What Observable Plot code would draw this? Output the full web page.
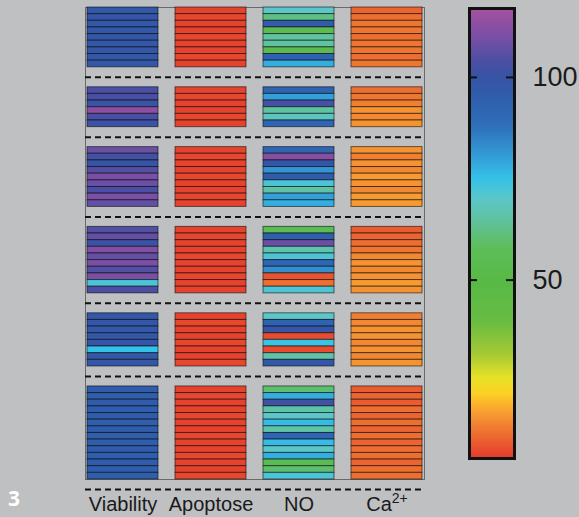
<!DOCTYPE html>
<html><head><meta charset="utf-8">
<script src="https://cdn.jsdelivr.net/npm/d3@7"></script>
<script src="https://cdn.jsdelivr.net/npm/@observablehq/plot@0.6"></script>
<style>
html,body{margin:0;padding:0;background:#bec0c2;}
#wrap{position:relative;width:579px;height:517px;background:#bec0c2;overflow:hidden;font-family:"Liberation Sans",Arial,sans-serif;}
#wrap svg{position:absolute;left:0;top:0;}
#panel{position:absolute;left:8px;top:484px;color:#fff;font:bold 21px "Open Sans",sans-serif;z-index:5;}
</style></head><body><div id="wrap"><div id="panel">3</div></div>
<script>
// ---- data ----
const columns = ["Viability", "Apoptose", "NO", "Ca2+"];
const groupSizes = [9, 6, 9, 10, 8, 14];
const gapRows = 3;

const viability = [
  [98, 99, 98, 98, 99, 98, 99, 98, 98],
  [104, 104, 100, 113, 104, 101],
  [108, 102, 100, 105, 110, 108, 104, 110, 107],
  [105, 107, 101, 111, 107, 110, 105, 110, 72, 104],
  [98, 99, 98, 98, 99, 75, 98, 98],
  [96, 95, 96, 95, 96, 95, 96, 95, 95, 96, 95, 96, 95, 95]
];
const apoptose = [
  [7, 7.5, 7, 7, 7.5, 7, 7, 7.5, 7],
  [7, 7.5, 7, 7, 7.5, 7],
  [7, 7.5, 7, 7, 7.5, 7, 7, 7.5, 7],
  [7, 7.5, 7, 7, 7.5, 7, 7, 7.5, 7, 7],
  [7, 7.5, 7, 7, 7.5, 7, 7, 7.5],
  [7, 7.5, 7, 7, 7.5, 7, 7, 7.5, 7, 7, 7.5, 7, 7, 7.5]
];
const no = [
  [70, 62, 96, 54, 65, 65, 54, 93, 78],
  [93, 80, 103, 65, 69, 92],
  [92, 112, 99, 82, 96, 72, 66, 80, 78],
  [55, 94, 108, 67, 72, 92, 83, 9, 12, 72],
  [70, 93, 99, 8, 74, 8, 66, 98],
  [60, 78, 102, 66, 70, 76, 66, 92, 76, 70, 78, 55, 60, 72]
];
const ca = [
  [11, 12, 13, 13, 12, 13, 13, 12, 13],
  [12, 13, 14, 16, 15, 16],
  [16, 14, 16, 15, 17, 16, 15, 17, 17],
  [10, 11, 12, 13, 15, 16, 15, 16, 17, 16],
  [14, 15, 16, 16, 15, 16, 15, 16],
  [10, 11, 10, 12, 11, 12, 11, 12, 11, 12, 12, 11, 12, 12]
];

const colorStops = [6, 10, 14, 18, 22, 26, 32, 40, 50, 58, 64, 70, 75, 80, 88, 95, 100, 104, 110, 117];
const colorRange = ["#e53a2e", "#ea5c30", "#f07f31", "#f9a431", "#fcd125", "#e6e226", "#a3c935", "#68bc42", "#58b947", "#5dbd5a", "#60c198", "#5cc6c8", "#35c2e8", "#33a0d9", "#2f6fbb", "#2f5eac", "#3754a5", "#4b4fa3", "#7a4fa5", "#a6509f"];
const colorDomain = [6, 117];
const colorTicks = [50, 100];

// ---- build table ----
const series = [viability, apoptose, no, ca];
const cells = [];
const dashes = [];
let start = 0;
groupSizes.forEach((n, g) => {
  for (let i = 0; i < n; i++) {
    columns.forEach((c, k) => {
      cells.push({column: c, y1: start + i, y2: start + i + 1, value: series[k][g][i]});
    });
  }
  dashes.push(start + n + gapRows / 2);
  start += n + gapRows;
});
const totalRows = start - gapRows;

const colorScale = {type: "linear", domain: colorStops, range: colorRange, interpolate: "rgb"};

const heat = Plot.plot({
  width: 579, height: 517,
  marginLeft: 85, marginRight: 155, marginTop: 7, marginBottom: 38,
  style: {background: "transparent", fontFamily: "Liberation Sans, Arial, sans-serif", fontSize: "20px", color: "#1a1a1a", overflow: "visible"},
  x: {domain: columns, paddingInner: 0.19, paddingOuter: 0, axis: null},
  y: {domain: [0, totalRows], reverse: true, axis: null},
  color: colorScale,
  marks: [
    Plot.frame({stroke: "#6a6a6a", strokeWidth: 1}),
    Plot.barY(cells, {x: "column", y1: "y1", y2: "y2", fill: "value", stroke: "#000", strokeOpacity: 0.55, strokeWidth: 1}),
    Plot.ruleY(dashes, {stroke: "#111", strokeWidth: 2, strokeDasharray: "6,4"}),
    Plot.axisX({anchor: "bottom", tickSize: 0, tickPadding: 17, fontSize: 20, label: null})
  ]
});

const bar = Plot.plot({
  width: 579, height: 517,
  marginLeft: 469, marginRight: 65, marginTop: 8, marginBottom: 59,
  style: {background: "transparent", fontFamily: "Liberation Sans, Arial, sans-serif", fontSize: "27px", color: "#1a1a1a", overflow: "visible"},
  x: {domain: [0, 1], axis: null},
  y: {domain: colorDomain, axis: null},
  color: colorScale,
  marks: [
    Plot.raster({x1: 0, x2: 1, y1: colorDomain[0], y2: colorDomain[1], width: 1, height: 400, fill: (x, y) => y, imageRendering: "auto"}),
    Plot.ruleY(colorTicks, {insetRight: 37, stroke: "#111", strokeWidth: 2}),
    Plot.ruleY(colorTicks, {insetLeft: 37, stroke: "#111", strokeWidth: 2}),
    Plot.frame({stroke: "#111", strokeWidth: 3}),
    Plot.axisY({anchor: "right", ticks: colorTicks, tickSize: 0, tickPadding: 18, fontSize: 27, label: null})
  ]
});

const wrap = document.getElementById("wrap");
wrap.appendChild(heat);
wrap.appendChild(bar);

// superscript for Ca2+
heat.querySelectorAll("text").forEach(t => {
  if (t.textContent === "Ca2+") {
    const ns = "http://www.w3.org/2000/svg";
    while (t.firstChild) t.removeChild(t.firstChild);
    t.appendChild(document.createTextNode("Ca"));
    const sup = document.createElementNS(ns, "tspan");
    sup.setAttribute("font-size", "14");
    sup.setAttribute("dy", "-0.55em");
    sup.textContent = "2+";
    t.appendChild(sup);
  }
});
</script>
</body></html>
